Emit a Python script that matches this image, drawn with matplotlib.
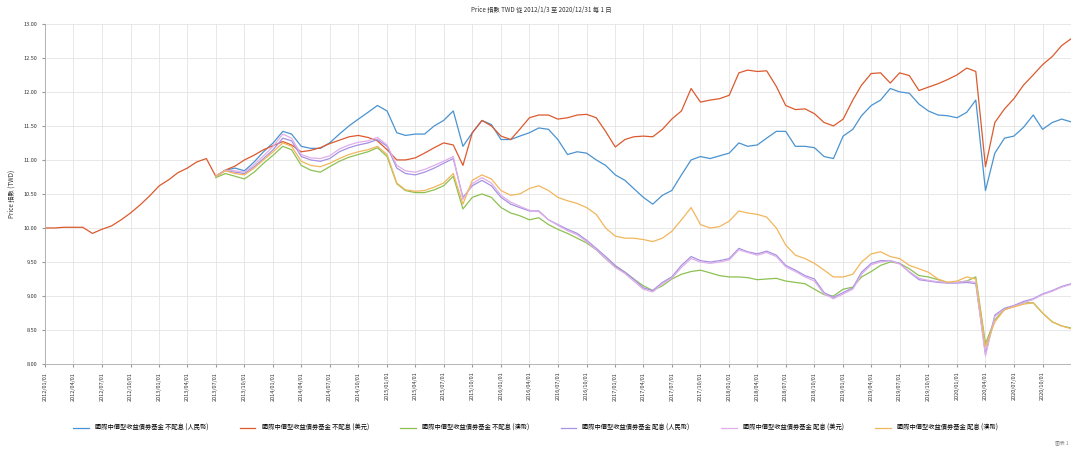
import numpy as np
import matplotlib
matplotlib.use('Agg')
import matplotlib.pyplot as plt
import matplotlib.dates as mdates
import pandas as pd

plt.rcParams['font.family'] = ['Noto Sans CJK TC', 'DejaVu Sans']

# monthly points, 2012/01 .. 2020/12, plus the last day
dates = list(pd.date_range('2012-01-01', periods=108, freq='MS')) + [pd.Timestamp('2020-12-31')]
start_others = 18  # other share classes begin 2013/07

red = [10.00, 10.00, 10.01, 10.01, 10.01, 9.92, 9.98, 10.03, 10.12, 10.22, 10.34, 10.47,
       10.62, 10.71, 10.81, 10.88, 10.97, 11.02, 10.76, 10.85, 10.91, 11.00, 11.07, 11.15,
       11.21, 11.27, 11.22, 11.12, 11.14, 11.18, 11.24, 11.29, 11.34, 11.36, 11.33, 11.28,
       11.15, 11.00, 11.00, 11.03, 11.10, 11.18, 11.25, 11.22, 10.92, 11.40, 11.58, 11.50,
       11.35, 11.30, 11.45, 11.62, 11.66, 11.66, 11.60, 11.62, 11.66, 11.67, 11.62, 11.42,
       11.19, 11.30, 11.34, 11.35, 11.34, 11.45, 11.60, 11.72, 12.05, 11.85, 11.88, 11.90,
       11.95, 12.28, 12.32, 12.30, 12.31, 12.08, 11.80, 11.74, 11.75, 11.68, 11.55, 11.50,
       11.60, 11.88, 12.10, 12.27, 12.28, 12.13, 12.28, 12.24, 12.02, 12.07, 12.12, 12.18,
       12.25, 12.35, 12.30, 10.90, 11.55, 11.75, 11.90, 12.10, 12.25, 12.40, 12.52, 12.68,
       12.78]

blue = [10.76, 10.85, 10.88, 10.84, 10.97, 11.12,
        11.25, 11.42, 11.38, 11.20, 11.17, 11.17, 11.25, 11.38, 11.50, 11.60, 11.70, 11.80,
        11.72, 11.40, 11.36, 11.38, 11.38, 11.50, 11.58, 11.72, 11.20, 11.40, 11.58, 11.52,
        11.30, 11.30, 11.35, 11.40, 11.47, 11.45, 11.30, 11.08, 11.12, 11.10, 11.00, 10.92,
        10.78, 10.70, 10.58, 10.45, 10.35, 10.48, 10.55, 10.78, 11.00, 11.05, 11.02, 11.06,
        11.10, 11.25, 11.20, 11.22, 11.32, 11.42, 11.42, 11.20, 11.20, 11.18, 11.05, 11.02,
        11.35, 11.45, 11.65, 11.80, 11.88, 12.05, 12.00, 11.98, 11.82, 11.72, 11.66, 11.65,
        11.62, 11.70, 11.88, 10.55, 11.10, 11.32, 11.35, 11.48, 11.66, 11.45, 11.55, 11.60,
        11.56]

green = [10.74, 10.80, 10.76, 10.72, 10.82, 10.95,
         11.07, 11.20, 11.15, 10.92, 10.85, 10.82, 10.90, 10.98, 11.04, 11.08, 11.12, 11.18,
         11.05, 10.65, 10.55, 10.52, 10.52, 10.56, 10.62, 10.76, 10.28, 10.45, 10.50, 10.45,
         10.30, 10.22, 10.18, 10.12, 10.15, 10.05, 9.98, 9.92, 9.85, 9.78, 9.68, 9.55,
         9.43, 9.35, 9.25, 9.15, 9.08, 9.15, 9.25, 9.32, 9.36, 9.38, 9.34, 9.30,
         9.28, 9.28, 9.27, 9.24, 9.25, 9.26, 9.22, 9.20, 9.18, 9.10, 9.02, 9.00,
         9.10, 9.13, 9.28, 9.36, 9.45, 9.50, 9.48, 9.40, 9.30, 9.28, 9.24, 9.20,
         9.20, 9.22, 9.28, 8.30, 8.65, 8.80, 8.85, 8.90, 8.90, 8.75, 8.62, 8.56,
         8.53]

purple = [10.76, 10.84, 10.82, 10.80, 10.90, 11.02,
          11.15, 11.32, 11.28, 11.05, 11.00, 10.98, 11.02, 11.12, 11.18, 11.22, 11.25, 11.30,
          11.20, 10.88, 10.80, 10.78, 10.82, 10.88, 10.95, 11.02, 10.45, 10.62, 10.70, 10.62,
          10.45, 10.35, 10.30, 10.25, 10.25, 10.12, 10.05, 9.98, 9.92, 9.82, 9.70, 9.58,
          9.45, 9.35, 9.25, 9.12, 9.08, 9.20, 9.28, 9.45, 9.58, 9.52, 9.50, 9.52,
          9.55, 9.70, 9.65, 9.62, 9.66, 9.60, 9.45, 9.38, 9.30, 9.25, 9.05, 8.98,
          9.05, 9.12, 9.35, 9.48, 9.52, 9.52, 9.48, 9.35, 9.24, 9.22, 9.20, 9.19,
          9.19, 9.20, 9.18, 8.15, 8.72, 8.82, 8.86, 8.92, 8.96, 9.03, 9.08, 9.14,
          9.18]

lilac = [10.76, 10.85, 10.84, 10.82, 10.93, 11.06,
         11.20, 11.38, 11.32, 11.08, 11.03, 11.02, 11.06, 11.16, 11.22, 11.26, 11.28, 11.33,
         11.22, 10.92, 10.84, 10.82, 10.86, 10.92, 10.98, 11.05, 10.42, 10.65, 10.74, 10.66,
         10.48, 10.38, 10.32, 10.26, 10.24, 10.12, 10.04, 9.96, 9.90, 9.80, 9.68, 9.55,
         9.42, 9.33, 9.22, 9.10, 9.06, 9.18, 9.26, 9.42, 9.55, 9.50, 9.48, 9.50,
         9.53, 9.68, 9.64, 9.60, 9.64, 9.58, 9.43, 9.36, 9.28, 9.22, 9.03, 8.96,
         9.03, 9.10, 9.32, 9.46, 9.50, 9.52, 9.47, 9.36, 9.26, 9.23, 9.21, 9.20,
         9.20, 9.22, 9.20, 8.12, 8.70, 8.80, 8.85, 8.90, 8.95, 9.02, 9.07, 9.13,
         9.17]

orange = [10.76, 10.84, 10.80, 10.78, 10.88, 11.00,
          11.12, 11.25, 11.20, 10.98, 10.92, 10.90, 10.95, 11.02, 11.08, 11.12, 11.15, 11.20,
          11.08, 10.66, 10.56, 10.54, 10.55, 10.60, 10.66, 10.80, 10.35, 10.70, 10.78, 10.72,
          10.55, 10.48, 10.50, 10.58, 10.62, 10.55, 10.45, 10.40, 10.36, 10.30, 10.20, 10.00,
          9.88, 9.85, 9.85, 9.83, 9.80, 9.85, 9.95, 10.12, 10.30, 10.05, 10.00, 10.02,
          10.10, 10.25, 10.22, 10.20, 10.16, 10.00, 9.75, 9.60, 9.55, 9.48, 9.38, 9.28,
          9.28, 9.32, 9.50, 9.62, 9.65, 9.58, 9.55, 9.45, 9.40, 9.35, 9.25, 9.20,
          9.22, 9.28, 9.25, 8.25, 8.62, 8.80, 8.84, 8.88, 8.90, 8.75, 8.62, 8.56,
          8.52]

fund = '國際中價型收益債券基金'
labels = [fund + ' 不配息 (人民幣)', fund + ' 不配息 (美元)', fund + ' 不配息 (澳幣)',
          fund + ' 配息 (人民幣)', fund + ' 配息 (美元)', fund + ' 配息 (澳幣)']
colors = ['#4a93d0', '#dc5a2e', '#8cc152', '#a592e3', '#dfaee8', '#f2b65c']
series = [blue, red, green, purple, lilac, orange]

fig = plt.figure(figsize=(10.71, 4.5), dpi=100)
ax = fig.add_axes([0.042, 0.191, 0.958, 0.756])

for s, c, lab in zip(series, colors, labels):
    d = dates if len(s) == len(dates) else dates[start_others:]
    ax.plot(d, s, color=c, lw=0.9, label=lab)

ax.set_ylim(8.0, 13.0)
ax.set_yticks(np.arange(8.0, 13.01, 0.5))
ax.yaxis.set_major_formatter(plt.FormatStrFormatter('%.2f'))
ax.set_xlim(pd.Timestamp('2012-01-01'), pd.Timestamp('2020-12-31'))
ax.set_xticks(pd.date_range('2012-01-01', '2020-10-01', freq='QS'))
ax.xaxis.set_major_formatter(mdates.DateFormatter('%Y/%m/%d'))
ax.tick_params(axis='x', labelrotation=90, labelsize=4, length=2, color='#999999', labelcolor='#333333')
ax.tick_params(axis='y', labelsize=4, length=2, color='#999999', labelcolor='#333333')
ax.grid(True, color='#e4e4e4', lw=0.6)
for sp in ['top', 'right']:
    ax.spines[sp].set_visible(False)
for sp in ['left', 'bottom']:
    ax.spines[sp].set_color('#aaaaaa')
    ax.spines[sp].set_linewidth(0.6)

ax.set_ylabel('Price 指數 (TWD)', fontsize=4.5, color='#333333', labelpad=6)
fig.text(0.505, 0.978, 'Price 指數 TWD 從 2012/1/3 至 2020/12/31 每 1 日', fontsize=4.5,
         ha='center', va='center', color='#333333')
fig.legend(loc='center', bbox_to_anchor=(0.5, 0.049), ncol=6, frameon=False,
           fontsize=4.5, handlelength=2.5, columnspacing=5, handletextpad=1)
fig.text(0.998, 0.01, '圖表 1', fontsize=3.5, ha='right', va='bottom', color='#888888')

fig.savefig('out.png', dpi=100)
